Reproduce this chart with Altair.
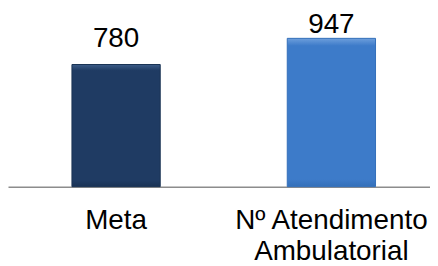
import altair as alt
import pandas as pd

categories = ["Meta", "Nº Atendimento|Ambulatorial"]
values = [780, 947]
base_colors = ["#1F3B63", "#3D7BC9"]
light_colors = ["#3C5C88", "#6E9FDC"]
dark_colors = ["#193254", "#336FB9"]

df = pd.DataFrame({"cat": categories, "val": values})

x = alt.X("cat:N", sort=categories,
          scale=alt.Scale(paddingInner=0.59, paddingOuter=0.275, align=0.54),
          axis=alt.Axis(title=None, ticks=False, labelAngle=0, labelFontSize=28,
                        labelColor="#000000", labelFont="Liberation Sans",
                        labelPadding=20, labelLineHeight=31, labelLimit=400,
                        labelExpr="split(datum.label, '|')",
                        domainColor="#8c8c8c", domainWidth=1.5, labelBaseline="top"))
y = alt.Y("val:Q", scale=alt.Scale(domain=[0, 1135]), axis=None)

base = alt.Chart(df)

layers = []
for i, c in enumerate(categories):
    grad = {
        "gradient": "linear", "x1": 0, "y1": 0, "x2": 0, "y2": 1,
        "stops": [
            {"offset": 0, "color": light_colors[i]},
            {"offset": 0.05, "color": base_colors[i]},
            {"offset": 0.95, "color": base_colors[i]},
            {"offset": 1, "color": dark_colors[i]},
        ],
    }
    layers.append(
        base.transform_filter(alt.datum.cat == c).mark_bar(
            fill=grad, stroke=dark_colors[i], strokeWidth=1
        ).encode(x=x, y=y)
    )

# value labels sit above the bars, kept inside the chart area at the top
text = base.transform_calculate(ty="min(datum.val, 865)").mark_text(
    dy=-18, fontSize=28, font="Liberation Sans", baseline="alphabetic",
    color="#000000").encode(x=x, y=alt.Y("ty:Q", scale=alt.Scale(domain=[0, 1135]), axis=None),
                             text="val:Q")

chart = alt.layer(*layers, text).properties(
    width=425, height=179, padding=0
).configure_view(stroke=None)

chart.save("out.html", embed_options={"renderer": "svg", "actions": False})
